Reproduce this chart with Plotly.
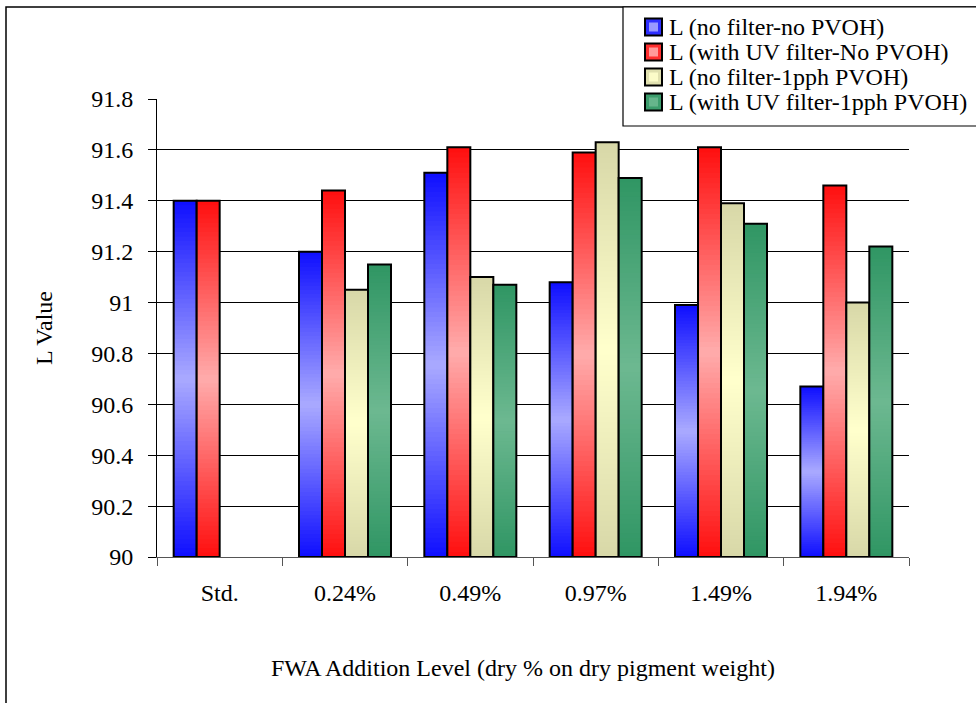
import plotly.graph_objects as go

# ---- data -------------------------------------------------------------
categories = ["Std.", "0.24%", "0.49%", "0.97%", "1.49%", "1.94%"]

series_names = [
    "L (no filter-no PVOH)",
    "L (with UV filter-No PVOH)",
    "L (no filter-1pph PVOH)",
    "L (with UV filter-1pph PVOH)",
]
no_filter_no_pvoh = [91.40, 91.20, 91.51, 91.08, 90.99, 90.67]
uv_filter_no_pvoh = [91.40, 91.44, 91.61, 91.59, 91.61, 91.46]
no_filter_1pph_pvoh = [None, 91.05, 91.10, 91.63, 91.39, 91.00]
uv_filter_1pph_pvoh = [None, 91.15, 91.07, 91.49, 91.31, 91.22]

y_tick_values = [90.0, 90.2, 90.4, 90.6, 90.8, 91.0, 91.2, 91.4, 91.6, 91.8]
y_tick_labels = ["90", "90.2", "90.4", "90.6", "90.8", "91", "91.2", "91.4", "91.6", "91.8"]

x_title = "FWA Addition Level (dry % on dry pigment weight)"
y_title = "L Value"

# ---- styling ----------------------------------------------------------
FONT = "Liberation Serif, Times New Roman, serif"
FS = 24
W, H = 976, 703
PL, PR, PT, PB = 157, 909, 99, 557          # plot area in pixels
Y0, Y1 = 90.0, 91.8

# (edge colour, centre colour) for the banded shading of each series
palettes = [
    ((16, 16, 255), (168, 168, 255)),
    ((255, 16, 16), (255, 170, 170)),
    ((216, 216, 168), (255, 255, 204)),
    ((48, 150, 100), (108, 184, 144)),
]

def px(x):
    return (x - PL) / (PR - PL)

def py(y):
    return (PB - y) / (PB - PT)

def mix(a, b, t):
    return "rgb({},{},{})".format(*[round(a[i] + (b[i] - a[i]) * t) for i in range(3)])

all_series = [no_filter_no_pvoh, uv_filter_no_pvoh, no_filter_1pph_pvoh, uv_filter_1pph_pvoh]

slot = 23 / ((PR - PL) / len(categories))   # bar width in category units
group_left = -2 * slot
STEPS = 40

fig = go.Figure()

for j, vals in enumerate(all_series):
    dark, light = palettes[j]
    off = group_left + j * slot
    heights = [None if v is None else v - Y0 for v in vals]
    # nested, centred layers: dark at the ends, light in the middle
    for k in range(STEPS):
        frac = 1 - k / STEPS
        t = k / (STEPS - 1)
        fig.add_trace(go.Bar(
            x=categories,
            y=[None if h is None else h * frac for h in heights],
            base=[Y0 if h is None else Y0 + h * (1 - frac) / 2 for h in heights],
            offset=off, width=slot,
            marker=dict(color=mix(dark, light, t), line=dict(width=0)),
            showlegend=False, hoverinfo="skip",
        ))
    # black outline carrying the value
    fig.add_trace(go.Bar(
        x=categories, y=heights, base=[Y0] * len(vals),
        offset=off, width=slot, name=series_names[j],
        marker=dict(color="rgba(0,0,0,0)", line=dict(color="black", width=2)),
        showlegend=False,
        hovertemplate="%{x}: %{customdata}<extra>" + series_names[j] + "</extra>",
        customdata=vals,
    ))

shapes = []
annotations = []

# chart frame
shapes.append(dict(type="rect", xref="paper", yref="paper",
                   x0=px(6), x1=px(W + 20), y0=py(H + 20), y1=py(7),
                   line=dict(color="black", width=1.5), fillcolor="rgba(0,0,0,0)",
                   layer="below"))

# legend box
shapes.append(dict(type="rect", xref="paper", yref="paper",
                   x0=px(623), x1=px(W + 20), y0=py(126), y1=py(7),
                   line=dict(color="black", width=1.2), fillcolor="white",
                   layer="above"))
row_y = [27, 52, 77, 102]
for j, name in enumerate(series_names):
    dark, light = palettes[j]
    cy = row_y[j]
    shapes.append(dict(type="rect", xref="paper", yref="paper",
                       x0=px(645), x1=px(662), y0=py(cy + 8.5), y1=py(cy - 8.5),
                       line=dict(color="black", width=2), fillcolor=mix(dark, light, 0.2),
                       layer="above"))
    shapes.append(dict(type="rect", xref="paper", yref="paper",
                       x0=px(649), x1=px(658), y0=py(cy + 4.5), y1=py(cy - 4.5),
                       line=dict(width=0), fillcolor=mix(dark, light, 0.9),
                       layer="above"))
    annotations.append(dict(xref="paper", yref="paper", x=px(667), y=py(cy),
                            xanchor="left", yanchor="middle", showarrow=False,
                            text=name, font=dict(family=FONT, size=FS, color="black")))

# axis titles
annotations.append(dict(xref="paper", yref="paper", x=px(44), y=py(328),
                        xanchor="center", yanchor="middle", showarrow=False,
                        textangle=-90, text=y_title,
                        font=dict(family=FONT, size=FS, color="black")))
annotations.append(dict(xref="paper", yref="paper", x=px(523), y=py(668),
                        xanchor="center", yanchor="middle", showarrow=False,
                        text=x_title, font=dict(family=FONT, size=FS, color="black")))

fig.update_layout(
    width=W, height=H,
    margin=dict(l=PL, r=W - PR, t=PT, b=H - PB, pad=0),
    paper_bgcolor="white", plot_bgcolor="white",
    barmode="overlay",
    font=dict(family=FONT, size=FS, color="black"),
    shapes=shapes, annotations=annotations,
    showlegend=False,
    xaxis=dict(
        type="category", range=[-0.5, len(categories) - 0.5],
        tickson="boundaries", ticks="outside", ticklen=8, tickwidth=1,
        tickcolor="#555", showline=True, linecolor="#555", linewidth=1,
        showgrid=False, zeroline=False, ticklabelstandoff=14,
        tickfont=dict(family=FONT, size=FS, color="black"),
    ),
    yaxis=dict(
        range=[Y0, Y1], tickmode="array", tickvals=y_tick_values, ticktext=y_tick_labels,
        showgrid=True, gridcolor="black", gridwidth=1,
        showline=True, linecolor="black", linewidth=1,
        ticks="outside", ticklen=8, tickwidth=1, tickcolor="black",
        zeroline=False, ticklabelstandoff=10,
        tickfont=dict(family=FONT, size=FS, color="black"),
    ),
)

fig.write_html("out.html")
